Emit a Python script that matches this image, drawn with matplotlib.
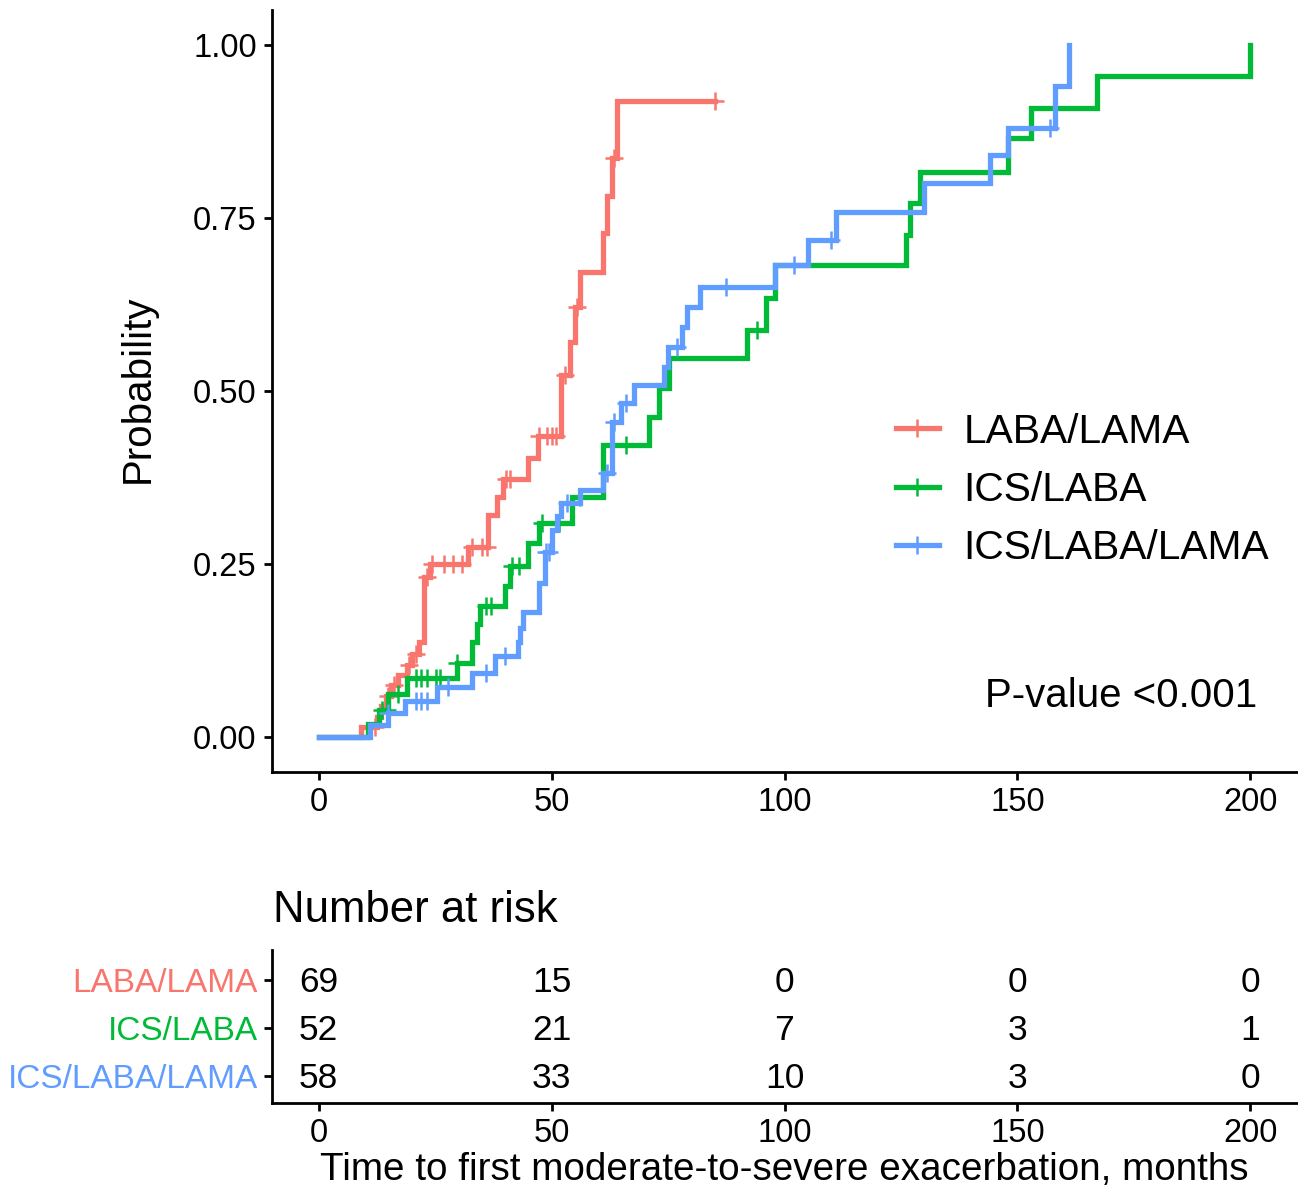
import numpy as np
import matplotlib
matplotlib.use('Agg')
import matplotlib.pyplot as plt
from matplotlib.lines import Line2D

plt.rcParams['font.family'] = ['Liberation Sans', 'DejaVu Sans']

groups = ['LABA/LAMA', 'ICS/LABA', 'ICS/LABA/LAMA']
colors = ['#F8766D', '#00BA38', '#619CFF']

# LABA/LAMA: event times and cumulative probability after each step
red_t = [0, 9, 12.5, 13.5, 14.5, 15.5, 17, 19, 20, 21.5, 22.7, 24, 32, 36.3, 38.2,
         39.5, 44.9, 47, 52.1, 53.9, 55, 56, 61, 62, 63, 64]
red_p = [0, 0.015, 0.03, 0.045, 0.06, 0.075, 0.09, 0.105, 0.12, 0.137, 0.232, 0.25,
         0.275, 0.321, 0.347, 0.373, 0.403, 0.435, 0.523, 0.571, 0.621, 0.672,
         0.728, 0.782, 0.837, 0.918]
red_cens = [12, 14.8, 16.2, 19.3, 21, 23.3, 24.3, 27, 28.8, 30.7, 33, 35, 36.2,
            40.3, 41, 47.2, 49.1, 50, 51, 52.8, 55.4, 63.3, 85]

# ICS/LABA
grn_t = [0, 10.5, 13, 15, 19, 29.6, 33, 34, 34.6, 40, 41, 45, 47.4, 54.3, 61, 71,
         73, 75.3, 92, 96, 98, 126, 127, 129, 148, 153, 167, 200]
grn_p = [0, 0.019, 0.04, 0.062, 0.086, 0.108, 0.137, 0.163, 0.189, 0.218, 0.247,
         0.28, 0.31, 0.347, 0.422, 0.463, 0.504, 0.547, 0.588, 0.634, 0.682,
         0.725, 0.771, 0.816, 0.865, 0.909, 0.955, 1.0]
grn_cens = [13.7, 14.6, 17, 21, 22, 23.2, 25.3, 26, 29.8, 36, 37, 41.5, 43, 48,
            51.7, 56, 66, 94]

# ICS/LABA/LAMA
blu_t = [0, 11, 15, 18.5, 25.5, 33, 37.8, 42.7, 43.2, 43.8, 47.4, 48.5, 50.2, 51.2,
         52, 56, 61, 63, 65, 67.8, 74.2, 75, 78, 79, 81.8, 98, 105, 111, 130, 144,
         148, 158, 161]
blu_p = [0, 0.018, 0.035, 0.052, 0.072, 0.093, 0.117, 0.137, 0.158, 0.181, 0.223,
         0.267, 0.30, 0.32, 0.338, 0.357, 0.382, 0.455, 0.482, 0.509, 0.535, 0.563,
         0.592, 0.621, 0.65, 0.682, 0.718, 0.758, 0.80, 0.84, 0.88, 0.941, 1.0]
blu_cens = [15, 21, 22, 23.3, 27.8, 36, 40, 48.8, 49.5, 53.4, 62, 63.3, 66, 77,
            87.5, 102, 110, 157]

risk_times = [0, 50, 100, 150, 200]
risk_laba_lama = [69, 15, 0, 0, 0]
risk_ics_laba = [52, 21, 7, 3, 1]
risk_triple = [58, 33, 10, 3, 0]

W, H = 1298, 1190
fig = plt.figure(figsize=(W / 100, H / 100), dpi=100)

def fx(px):
    return px / W

def fy(py):
    return 1 - py / H

ax = fig.add_axes([fx(272), fy(772), fx(1297) - fx(272), fy(10) - fy(772)])
ax2 = fig.add_axes([fx(272), fy(1103), fx(1297) - fx(272), fy(950) - fy(1103)])

lw = 3.8
series = [(red_t, red_p, red_cens), (grn_t, grn_p, grn_cens), (blu_t, blu_p, blu_cens)]
handles = []
for (t, p, c), col, name in zip(series, colors, groups):
    t = np.asarray(t, float)
    p = np.asarray(p, float)
    c = np.asarray(c, float)
    tend = max(t[-1], c.max()) if len(c) else t[-1]
    tt = np.append(t, tend)
    pp = np.append(p, p[-1])
    ax.step(tt, pp, where='post', color=col, lw=lw, solid_joinstyle='miter')
    idx = np.searchsorted(t, c, side='right') - 1
    ax.plot(c, p[idx], ls='none', marker='+', ms=13, mew=1.8, color=col)
    handles.append(Line2D([], [], color=col, lw=lw, marker='+', ms=13, mew=1.8))

ax.set_xlim(-10, 210)
ax.set_ylim(-0.05, 1.05)
ax.set_xticks([0, 50, 100, 150, 200])
ax.set_yticks([0, 0.25, 0.5, 0.75, 1.0])
ax.set_yticklabels(['0.00', '0.25', '0.50', '0.75', '1.00'])
for s in ['top', 'right']:
    ax.spines[s].set_visible(False)
for s in ['left', 'bottom']:
    ax.spines[s].set_linewidth(2.0)
ax.tick_params(axis='both', labelsize=23.5, length=6, width=2.0, pad=5, colors='black')
ax.set_ylabel('Probability', fontsize=29)
ax.yaxis.set_label_coords((138 - 272) / 1025, (772 - 389) / 762)
ax.yaxis.label.set_va('center')

ax.legend(handles, groups, loc='center left', bbox_to_anchor=((896 - 272) / 1025, (772 - 490) / 762),
          frameon=False, fontsize=29.3, handlelength=1.05, handletextpad=0.6,
          labelspacing=0.5, borderpad=0, borderaxespad=0)

ax.text(201.5, 0.059, 'P-value <0.001', fontsize=29, ha='right', va='center')

# risk table
rows = [risk_laba_lama, risk_ics_laba, risk_triple]
ypos = [3, 2, 1]
for vals, y in zip(rows, ypos):
    for tx, v in zip(risk_times, vals):
        ax2.text(tx, y - 0.04, str(v), fontsize=25.5, ha='center', va='center')
ax2.set_xlim(-10, 210)
ax2.set_ylim(0.44, 3.63)
ax2.set_xticks([0, 50, 100, 150, 200])
ax2.set_yticks(ypos)
ax2.set_yticklabels(groups)
for lab, col in zip(ax2.get_yticklabels(), colors):
    lab.set_color(col)
for s in ['top', 'right']:
    ax2.spines[s].set_visible(False)
for s in ['left', 'bottom']:
    ax2.spines[s].set_linewidth(2.0)
ax2.tick_params(axis='x', labelsize=23.5, length=6, width=2.0, pad=5)
ax2.tick_params(axis='y', labelsize=24, length=6, width=2.0, pad=4)
ax2.set_xlabel('Time to first moderate-to-severe exacerbation, months', fontsize=27.8)
ax2.xaxis.set_label_coords(0.5, (1103 - 1170) / 153)
ax2.xaxis.label.set_va('center')

fig.text(fx(273), fy(910), 'Number at risk', fontsize=31.5, ha='left', va='center')

fig.savefig('out.png', dpi=100)
